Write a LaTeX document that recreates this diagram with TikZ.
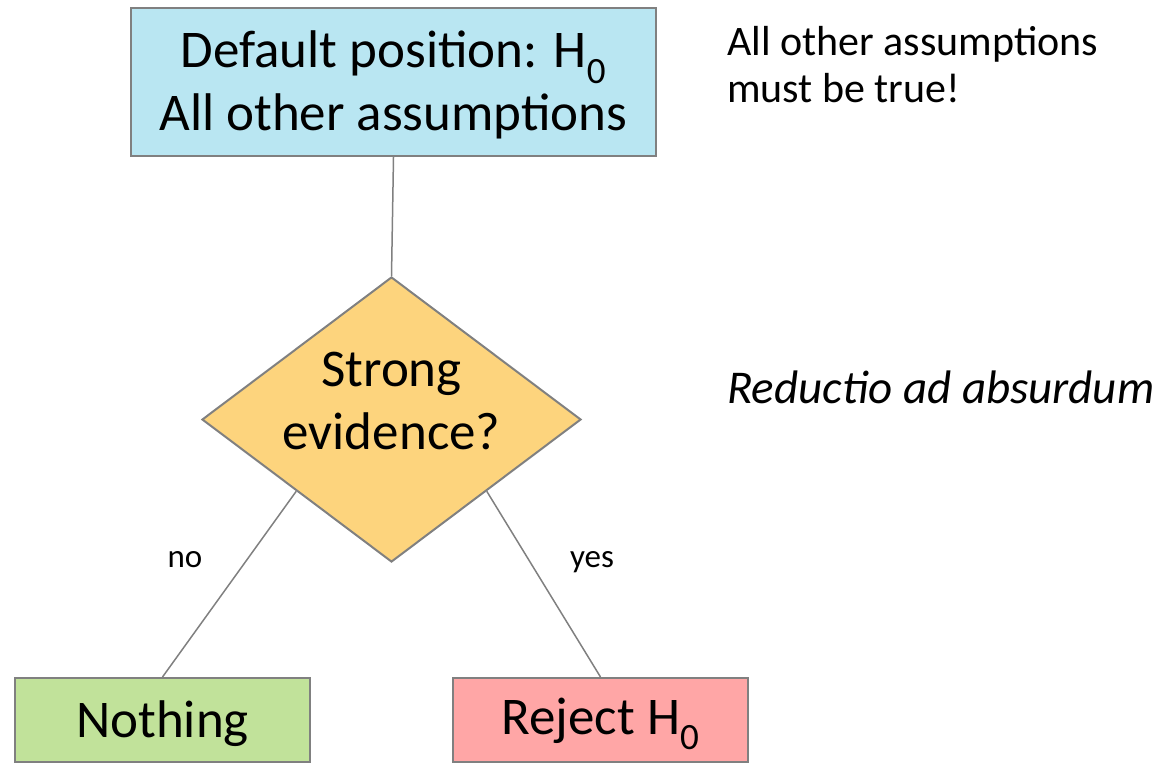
\documentclass[tikz,border=0pt]{standalone}
\usepackage{fontspec}
\setmainfont{Carlito}
\usetikzlibrary{shapes.geometric,calc}
\definecolor{edgegray}{RGB}{128,128,128}
\definecolor{boxblue}{RGB}{185,230,242}
\definecolor{boxgold}{RGB}{253,212,125}
\definecolor{boxgreen}{RGB}{193,226,154}
\definecolor{boxpink}{RGB}{255,166,166}
\tikzset{
  bigtext/.style={font=\fontsize{53}{63}\selectfont, align=center, inner sep=0pt},
  box/.style={draw=edgegray, line width=2pt, rectangle, inner sep=0pt},
  decision/.style={draw=edgegray, line width=2pt, diamond, inner sep=0pt,
    fill=boxgold, minimum width=379pt, minimum height=285pt},
  conn/.style={draw=edgegray, line width=1.5pt},
  lbl/.style={font=\fontsize{33}{38}\selectfont, inner sep=0pt},
  note/.style={font=\fontsize{42}{47}\selectfont, inner sep=0pt, align=left}
}
\begin{document}
\begin{tikzpicture}[x=1pt,y=-1pt]
\useasboundingbox (0,0) rectangle (1169,763);
\node[box, fill=boxblue, minimum width=525pt, minimum height=148pt,
  label={[bigtext, name=toptext, yshift=-3pt]center:{Default position: H\textsubscript{0}\\All other assumptions}}] (top) at (393.5,82) {};
\node[decision,
  label={[bigtext, name=diatext, yshift=19pt]center:{Strong\\evidence?}}] (dia) at (391.5,419.5) {};
\node[box, fill=boxgreen, minimum width=295pt, minimum height=84pt,
  label={[bigtext, name=nothingtext, yshift=-4pt]center:{Nothing}}] (nothing) at (162.5,720) {};
\node[box, fill=boxpink, minimum width=295pt, minimum height=84pt,
  label={[bigtext, name=rejecttext, yshift=-4pt]center:{Reject H\textsubscript{0}}}] (reject) at (600.5,720) {};
\coordinate (dl) at ($(dia.west)!0.5!(dia.south)$);
\coordinate (dr) at ($(dia.east)!0.5!(dia.south)$);
\draw[conn] (top.south) -- (dia.north);
\draw[conn] (dl) -- (nothing.north);
\draw[conn] (dr) -- (reject.north);
\node[lbl, anchor=base] (no) at (185,567) {no};
\node[lbl, anchor=base] (yes) at (592,567) {yes};
\node[note, anchor=base west] (n1) at (727,102) {All other assumptions\\must be true!};
\node[note, anchor=base west, font=\fontsize{47}{52}\selectfont\itshape] (n2) at (727,403) {Reductio ad absurdum};
\end{tikzpicture}
\end{document}
